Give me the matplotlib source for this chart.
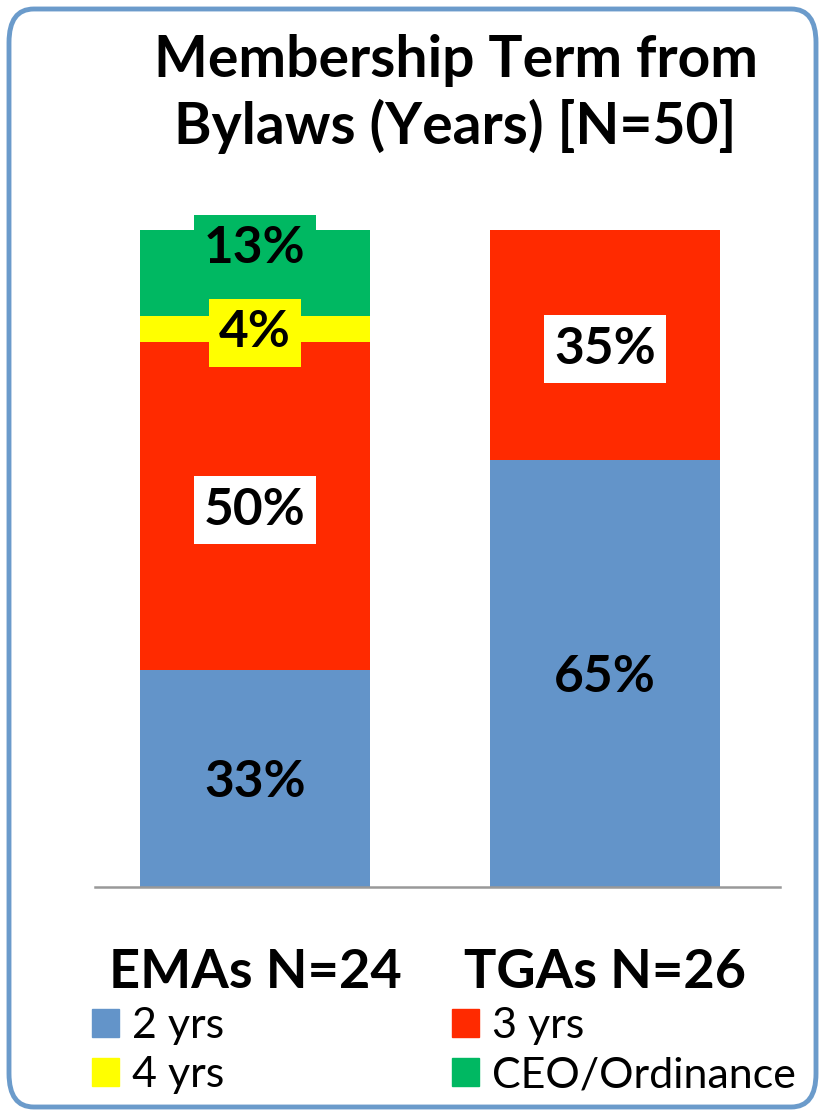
import matplotlib.pyplot as plt
from matplotlib.patches import FancyBboxPatch, Patch

# data
groups = ['EMAs N=24', 'TGAs N=26']
terms = ['2 yrs', '3 yrs', '4 yrs', 'CEO/Ordinance']
emas = [33, 50, 4, 13]
tgas = [65, 35, 0, 0]
colors = ['#6394C9', '#FF2A00', '#FFFF00', '#00B862']
# label box fill per segment (None = no box)
box_fill = [None, 'white', '#FFFF00', '#00B862']

plt.rcParams['font.family'] = ['Lato', 'DejaVu Sans']

fig = plt.figure(figsize=(8.24, 11.16), dpi=100)
ax = fig.add_axes([95 / 824, 1 - 887 / 1116, 685 / 824, 687 / 1116])

x = [0, 1]
width = 0.657
bottoms = [0, 0]
series = list(zip(emas, tgas))
for i, vals in enumerate(series):
    ax.bar(x, vals, width, bottom=bottoms, color=colors[i], zorder=2)
    for j, v in enumerate(vals):
        if v == 0:
            continue
        yc = bottoms[j] + v / 2
        dy = -4
        if j == 0 and i == 3:
            dy = 24  # label pushed up by the one below it
        fc = box_fill[i]
        bb = None
        if fc is not None:
            bb = dict(boxstyle='square,pad=0.2', fc=fc, ec='none')
        ax.annotate(f'{v}%', (x[j], yc), xytext=(0, dy), textcoords='offset pixels',
                    ha='center', va='center', fontsize=37, fontweight='bold',
                    color='black', bbox=bb, zorder=3 + i)
    bottoms = [b + v for b, v in zip(bottoms, vals)]

ax.set_xlim(-0.457, 1.5)
ax.set_ylim(0, 104.6)
ax.set_yticks([])
for s in ['top', 'left', 'right']:
    ax.spines[s].set_visible(False)
ax.spines['bottom'].set_color('#999999')
ax.spines['bottom'].set_linewidth(1.8)
ax.set_xticks(x)
ax.set_xticklabels(groups, fontsize=39, fontweight='bold')
ax.tick_params(axis='x', length=0, pad=44)

fig.text(0.553, 1 - 94 / 1116, 'Membership Term from\nBylaws (Years) [N=50]',
         ha='center', va='center', fontsize=41, fontweight='bold', linespacing=1.25)

order = [0, 2, 1, 3]
handles = [Patch(color=colors[k]) for k in order]
fig.legend(handles, [terms[k] for k in order], ncol=2, loc='upper left',
           bbox_to_anchor=(92 / 824, 1 - 1007 / 1116), frameon=False,
           borderpad=0, borderaxespad=0,
           fontsize=31, handlelength=0.62, handleheight=0.62, handletextpad=0.3,
           columnspacing=5.3, labelspacing=0.26)

border = FancyBboxPatch((9 / 824, 9 / 1116), 807 / 824, 1098 / 1116,
                        boxstyle='round,pad=0,rounding_size=0.03',
                        transform=fig.transFigure, fc='none', ec='#6B9BCB', lw=3.5)
fig.patches.append(border)

fig.savefig('out.png', dpi=100)
